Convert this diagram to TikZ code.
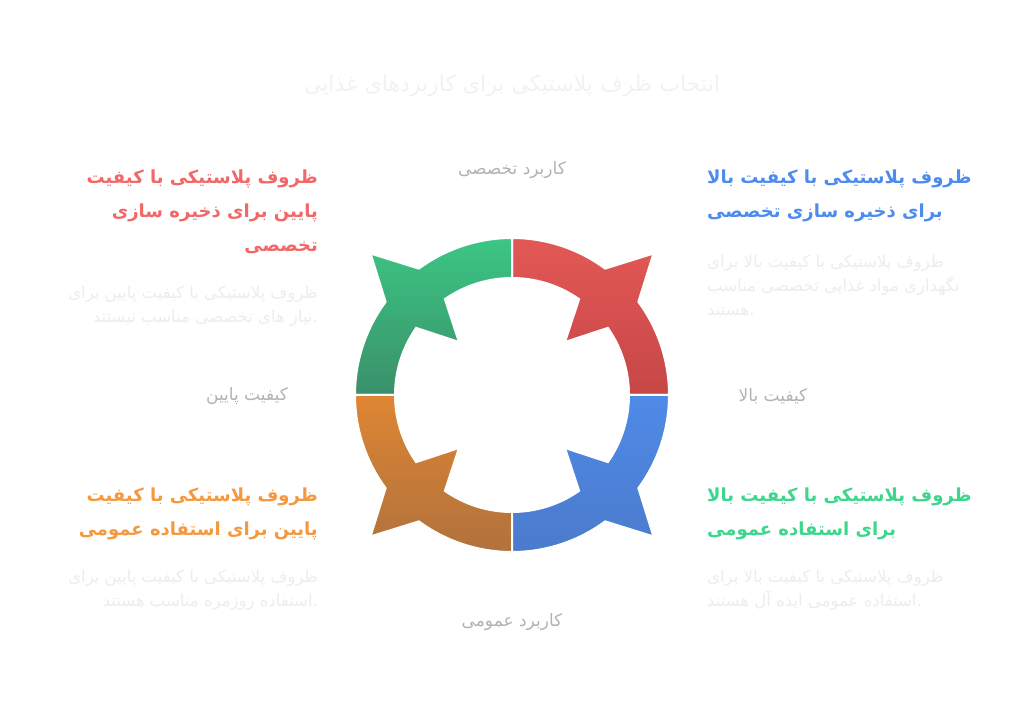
\documentclass[tikz,border=0pt]{standalone}
\usepackage{fontspec}
\setmainfont{DejaVu Sans}
\newfontfamily\farsi[Script=Arabic]{DejaVu Sans}
\TeXXeTstate=1
\definecolor{redtop}{HTML}{E35855}
\definecolor{redbot}{HTML}{C64747}
\definecolor{greentop}{HTML}{3CC684}
\definecolor{greenbot}{HTML}{3A906A}
\definecolor{orangetop}{HTML}{DE8633}
\definecolor{orangebot}{HTML}{B0723C}
\definecolor{bluetop}{HTML}{4F8AE8}
\definecolor{bluebot}{HTML}{4B7BCC}
\definecolor{redtext}{HTML}{F26868}
\definecolor{bluetext}{HTML}{4D8BEF}
\definecolor{orangetext}{HTML}{F4993F}
\definecolor{greentext}{HTML}{3DD68C}
\begin{document}
\begin{tikzpicture}[
  x=1pt, y=1pt,
  every node/.style={inner sep=0pt},
  title/.style={text=black!5, font=\farsi\fontsize{22}{26}\selectfont},
  axis/.style={text=black!30, font=\farsi\fontsize{17}{20}\selectfont},
  head/.style={font=\farsi\bfseries\fontsize{18}{34}\selectfont},
  desc/.style={text=black!7, font=\farsi\fontsize{16.5}{24}\selectfont}
]
\tikzset{
  leftcol/.style={anchor=north east, align=right},
  rightcol/.style={anchor=north west, align=left}
}
\useasboundingbox[fill=white] (0,0) rectangle (1024,722);

\begin{scope}[shift={(512,327)}]
\foreach \b/\ct/\cb in {0/redtop/redbot, 90/greentop/greenbot,
                        180/orangetop/orangebot, 270/bluetop/bluebot}
  \draw[white, line width=2pt, top color=\ct, bottom color=\cb]
    ({\b+90}:157) arc[start angle=\b+90, end angle=\b+53.6, radius=157]
    -- ({\b+45}:200) -- ({\b+36.4}:157)
    arc[start angle=\b+36.4, end angle=\b, radius=157]
    -- (\b:117) arc[start angle=\b, end angle=\b+35, radius=117]
    -- ({\b+45}:75) -- ({\b+55}:117)
    arc[start angle=\b+55, end angle=\b+90, radius=117] -- cycle;
\end{scope}

\node[title] (heading) at (512,636) {\beginR انتخاب ظرف پلاستیکی برای کاربردهای غذایی\endR};

\node[axis] (special) at (512,552) {\beginR کاربرد تخصصی\endR};
\node[axis] (general) at (512,100) {\beginR کاربرد عمومی\endR};
\node[axis] (low) at (247,326) {\beginR کیفیت پایین\endR};
\node[axis] (high) at (773,326) {\beginR کیفیت بالا\endR};

\node[head, leftcol, text=redtext] (lowspecial) at (318,552)
  {\beginR ظروف پلاستیکی با کیفیت\endR\\\beginR پایین برای ذخیره سازی\endR\\\beginR تخصصی\endR};
\node[desc, leftcol] (lowspecialtxt) at (318,436)
  {\beginR ظروف پلاستیکی با کیفیت پایین برای\endR\\\beginR نیاز های تخصصی مناسب نیستند\endR.};

\node[head, rightcol, text=bluetext] (highspecial) at (707,552)
  {\beginR ظروف پلاستیکی با کیفیت بالا\endR\\\beginR برای ذخیره سازی تخصصی\endR};
\node[desc, rightcol] (highspecialtxt) at (707,467)
  {\beginR ظروف پلاستیکی با کیفیت بالا برای\endR\\\beginR نگهداری مواد غذایی تخصصی مناسب\endR\\\beginR هستند\endR.};

\node[head, leftcol, text=orangetext] (lowgeneral) at (318,234)
  {\beginR ظروف پلاستیکی با کیفیت\endR\\\beginR پایین برای استفاده عمومی\endR};
\node[desc, leftcol] (lowgeneraltxt) at (318,152)
  {\beginR ظروف پلاستیکی با کیفیت پایین برای\endR\\\beginR استفاده روزمره مناسب هستند\endR.};

\node[head, rightcol, text=greentext] (highgeneral) at (707,234)
  {\beginR ظروف پلاستیکی با کیفیت بالا\endR\\\beginR برای استفاده عمومی\endR};
\node[desc, rightcol] (highgeneraltxt) at (707,152)
  {\beginR ظروف پلاستیکی با کیفیت بالا برای\endR\\\beginR استفاده عمومی ایده آل هستند\endR.};
\end{tikzpicture}
\end{document}
